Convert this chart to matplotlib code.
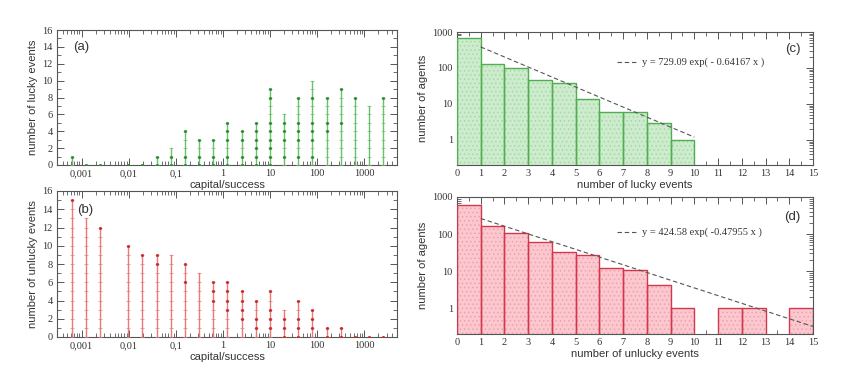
import numpy as np
import matplotlib
matplotlib.use("Agg")
import matplotlib.pyplot as plt
from matplotlib.ticker import LogLocator, FixedLocator, MultipleLocator, NullFormatter, FuncFormatter

# ---------------- data ----------------
# capital bins (10 * 2^k)
capital = [0.00061, 0.00122, 0.00244, 0.00977, 0.0195, 0.039, 0.078, 0.156,
           0.3125, 0.625, 1.25, 2.5, 5, 10, 20, 40, 80, 160, 320, 640, 1280, 2560]

# panel (a): max lucky events per bin and values with (darker) points
lucky_max = [1, 0, 0, 0, 0, 1, 2, 4, 3, 3, 5, 4, 5, 9, 6, 8, 10, 8, 9, 8, 7, 8]
lucky_pts = [[1], [0], [0], [0], [0], [1, 0], [1, 0], [4, 1, 0], [3, 1, 0], [3, 1, 0],
             [5, 4, 3, 1, 0], [4, 3, 1, 0], [5, 4, 3, 2, 1, 0], [9, 8, 5, 4, 3, 2, 1, 0],
             [5, 4, 3, 1], [8, 5, 4, 3, 1], [8, 5, 4, 3, 1], [8, 5, 4], [9, 5], [8], [], [8]]

# panel (b): max unlucky events per bin and values with (darker) points
unlucky_max = [15, 13, 12, 10, 9, 9, 9, 8, 7, 6, 6, 5, 4, 5, 3, 4, 3, 1, 1, 0, 0, 0]
unlucky_pts = [[15], [], [12], [10], [9], [9, 8], [], [8, 6], [], [6, 5, 4],
               [6, 5, 4, 3], [5, 4, 3, 2], [4, 2, 1], [5, 3, 2, 1], [2, 1, 0],
               [4, 2, 1, 0], [3, 2, 1], [1, 0], [1, 0], [0], [0], [0]]

# panel (c): histogram of lucky events
lucky_bins = [0, 1, 2, 3, 4, 5, 6, 7, 8, 9]
lucky_counts = [700, 133, 102, 46, 39, 13.5, 6, 6, 3, 1]
fit_c = (729.09, 0.64167)
fit_c_range = (1, 10)

# panel (d): histogram of unlucky events
unlucky_bins = [0, 1, 2, 3, 4, 5, 6, 7, 8, 9, 10, 11, 12, 13, 14]
unlucky_counts = [620, 165, 106, 60, 32, 28, 12.3, 10.5, 4.1, 1, 0, 1, 1, 0, 1]
fit_d = (424.58, 0.47955)
fit_d_range = (1, 15)

# ---------------- style ----------------
SERIF = ["Liberation Serif", "DejaVu Serif"]
SANS = ["Liberation Sans", "DejaVu Sans"]
plt.rcParams["font.family"] = SANS
plt.rcParams["axes.linewidth"] = 0.8
plt.rcParams["axes.edgecolor"] = "#555555"
plt.rcParams["hatch.linewidth"] = 0.6

W, H = 864, 374
fig = plt.figure(figsize=(W / 100, H / 100), dpi=100)


def frac(l, t, r, b):
    return [l / W, (H - b) / H, (r - l) / W, (b - t) / H]


ax_a = fig.add_axes(frac(57, 30, 397, 165))
ax_b = fig.add_axes(frac(57, 191, 397, 337))
ax_c = fig.add_axes(frac(457, 32, 813, 165))
ax_d = fig.add_axes(frac(457, 197, 813, 334))


def comma_fmt(v, pos):
    s = ("%g" % v)
    if v < 1:
        s = ("%.3f" % v).rstrip("0")
    return s.replace(".", ",")


def style_tick_labels(ax):
    for lab in ax.get_xticklabels() + ax.get_yticklabels():
        lab.set_fontfamily(SERIF)
        lab.set_fontsize(7.5)
        lab.set_color("#333333")


def common_ticks(ax):
    ax.tick_params(which="both", direction="in", top=True, right=True, colors="#555555")
    ax.tick_params(which="major", length=5, width=0.7, pad=3)
    ax.tick_params(which="minor", length=3, width=0.6)


def stem_panel(ax, maxv, pts, line_c, dot_c, ylabel, tag, tag_x):
    for x, m, p in zip(capital, maxv, pts):
        if m > 0:
            ax.plot([x, x], [0, m], color=line_c, lw=1.0, zorder=2)
            ax.plot([x] * (m + 1), list(range(m + 1)), ls="none", marker="_",
                    ms=2.2, mew=0.5, color=line_c, zorder=3)
        if p:
            ax.plot([x] * len(p), p, ls="none", marker="o", ms=1.9,
                    color=dot_c, mec=dot_c, mew=0.3, zorder=4)
    ax.set_xscale("log")
    ax.set_xlim(0.0003, 5000)
    ax.set_ylim(0, 16)
    ax.xaxis.set_major_locator(FixedLocator([0.001, 0.01, 0.1, 1, 10, 100, 1000]))
    ax.xaxis.set_minor_locator(LogLocator(base=10, subs=np.arange(2, 10), numticks=20))
    ax.xaxis.set_major_formatter(FuncFormatter(comma_fmt))
    ax.xaxis.set_minor_formatter(NullFormatter())
    ax.yaxis.set_major_locator(MultipleLocator(2))
    ax.yaxis.set_minor_locator(MultipleLocator(1))
    common_ticks(ax)
    ax.set_xlabel("capital/success", fontsize=8, labelpad=1, color="#333333")
    ax.set_ylabel(ylabel, fontsize=8, labelpad=3, color="#333333")
    style_tick_labels(ax)
    ax.text(tag_x, 0.85, tag, transform=ax.transAxes, fontsize=9.5, color="#333333")


stem_panel(ax_a, lucky_max, lucky_pts, "#6cbf6c", "#2a8a2a",
           "number of lucky events", "(a)", 0.048)
stem_panel(ax_b, unlucky_max, unlucky_pts, "#ea7a7a", "#c42a2a",
           "number of unlucky events", "(b)", 0.058)


def hist_panel(ax, bins, counts, face, dots, edge, fit, frange, xlabel, tag,
               fit_label, leg_y, tag_y):
    heights = [c if c > 0 else np.nan for c in counts]
    ax.bar(bins, heights, width=1.0, align="edge", color=face, edgecolor=dots,
           linewidth=0, hatch="....", zorder=2)
    ax.bar(bins, heights, width=1.0, align="edge", fill=False, edgecolor=edge,
           linewidth=1.0, zorder=3)
    xs = np.linspace(frange[0], frange[1], 200)
    ax.plot(xs, fit[0] * np.exp(-fit[1] * xs), ls=(0, (4, 2.5)), color="#555555",
            lw=0.8, zorder=4)
    ax.set_yscale("log")
    ax.set_ylim(0.2, 1000)
    ax.set_xlim(0, 15)
    ax.xaxis.set_major_locator(MultipleLocator(1))
    ax.xaxis.set_minor_locator(MultipleLocator(0.5))
    ax.yaxis.set_major_locator(FixedLocator([1, 10, 100, 1000]))
    ax.yaxis.set_minor_locator(LogLocator(base=10, subs=np.arange(2, 10), numticks=20))
    ax.yaxis.set_major_formatter(FuncFormatter(lambda v, p: "%d" % v))
    ax.yaxis.set_minor_formatter(NullFormatter())
    common_ticks(ax)
    ax.set_xlabel(xlabel, fontsize=8, labelpad=1, color="#333333")
    ax.set_ylabel("number of agents", fontsize=8, labelpad=3, color="#333333")
    style_tick_labels(ax)
    ax.text(0.965, tag_y, tag, transform=ax.transAxes, fontsize=9.5, color="#333333",
            ha="right", va="center")
    # fit annotation (legend-like)
    ax.plot([0.45, 0.505], [leg_y, leg_y], transform=ax.transAxes, ls=(0, (4, 2.5)),
            color="#555555", lw=0.8)
    ax.text(0.52, leg_y, fit_label, transform=ax.transAxes, fontsize=7.5,
            family=SERIF, va="center", color="#333333")


hist_panel(ax_c, lucky_bins, lucky_counts, "#cdeccd", "#a6d8a6", "#4fae4f", fit_c,
           fit_c_range, "number of lucky events", "(c)",
           "y = 729.09 exp( - 0.64167 x )", 0.775, 0.87)
hist_panel(ax_d, unlucky_bins, unlucky_counts, "#fcc8cf", "#f0a0ab", "#d2384c", fit_d,
           fit_d_range, "number of unlucky events", "(d)",
           "y = 424.58 exp( -0.47955 x )", 0.745, 0.855)

fig.savefig("out.png", dpi=100)
